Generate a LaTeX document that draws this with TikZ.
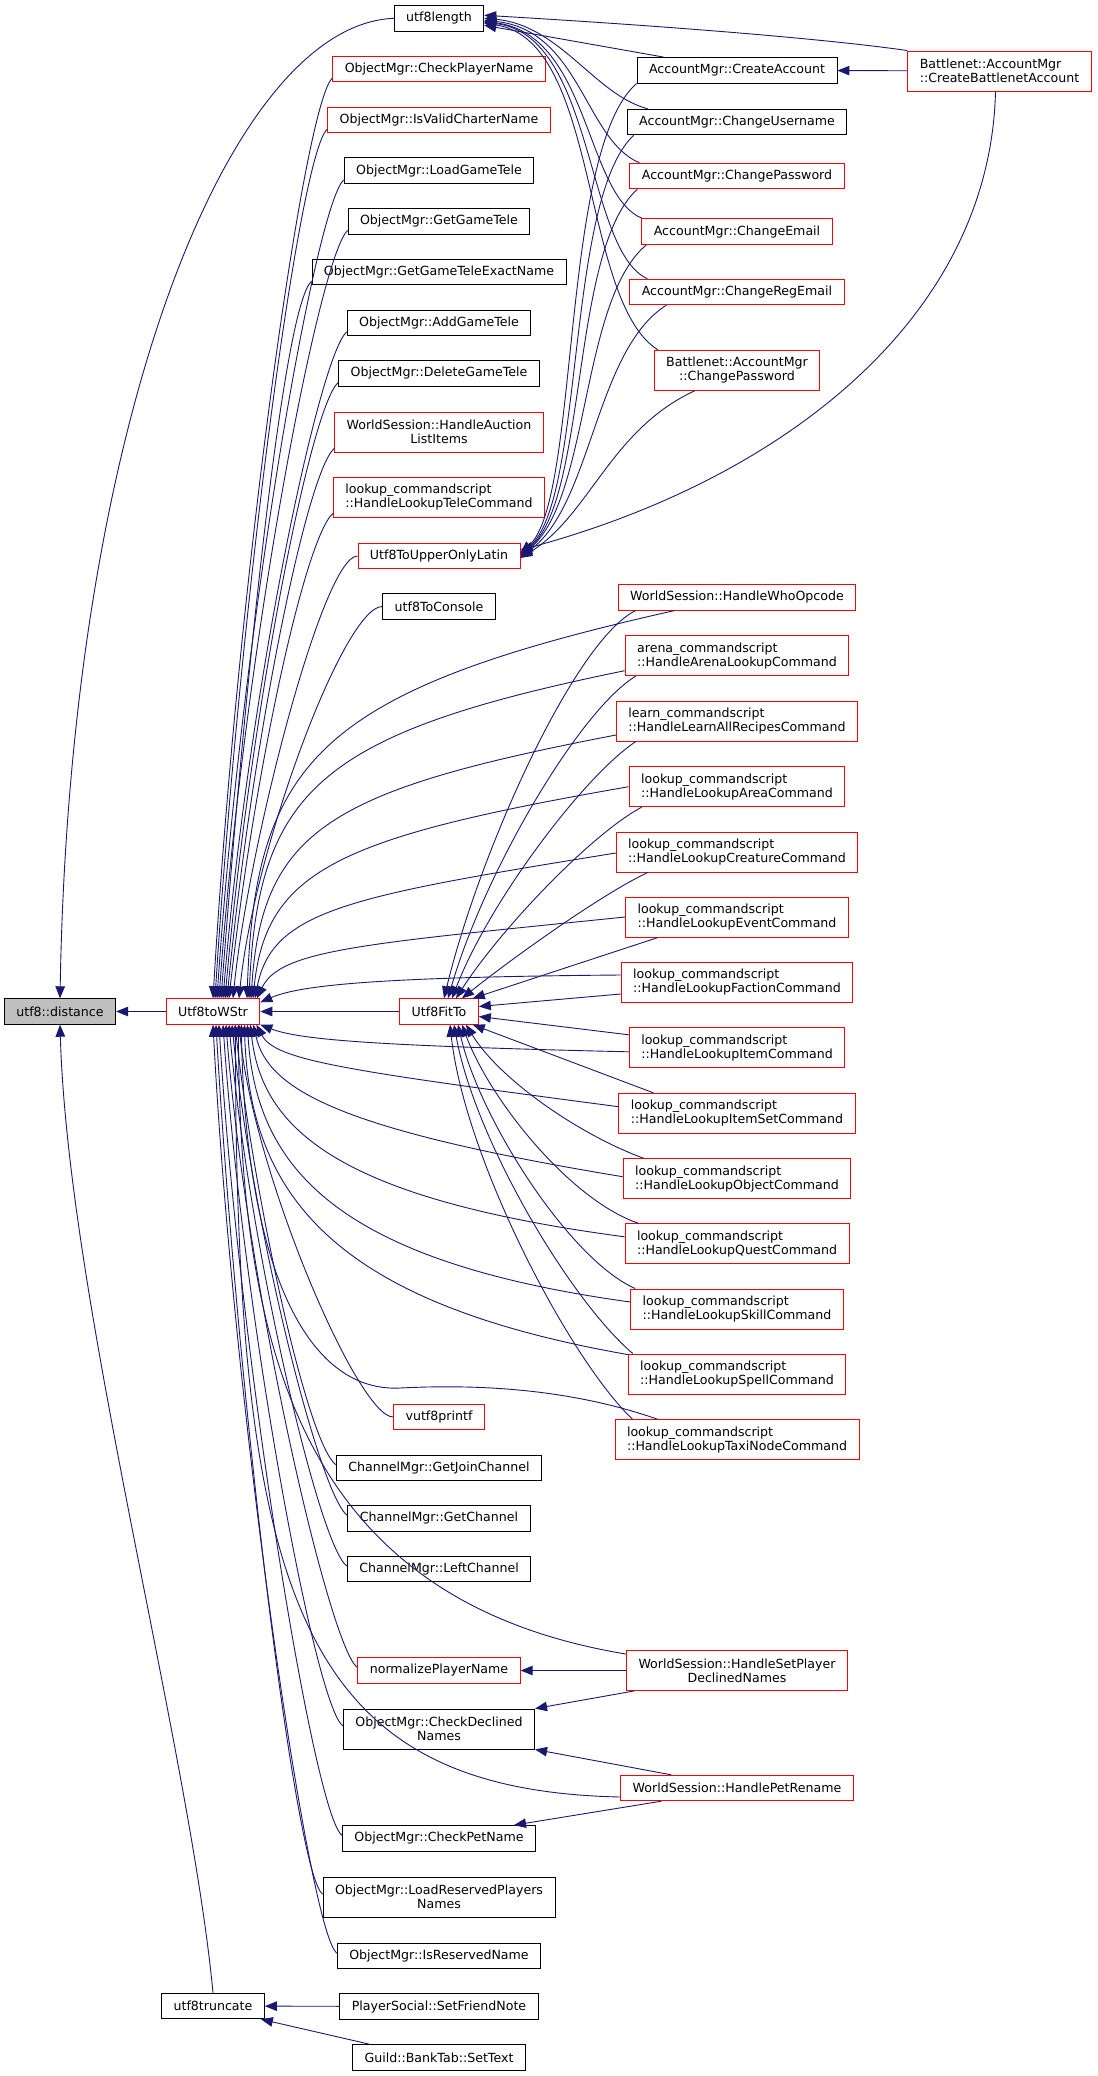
\documentclass[tikz,border=0pt]{standalone}
\usepackage{fontspec}
\setmainfont{DejaVu Sans}
\usepackage{xcolor}
\usepackage{tikz}
\usetikzlibrary{arrows.meta}
\definecolor{edgeblue}{HTML}{191970}

\begin{document}
\begin{tikzpicture}[
  x=1pt, y=-1pt,
  every node/.style={font=\fontsize{12.6}{14}\selectfont},
  func/.style={rectangle, draw=black, fill=white, line width=0.9pt, minimum height=25.5pt, inner xsep=12pt, inner ysep=2pt},
  cut/.style={func, draw=red},
  root/.style={func, fill=gray!50},
  two/.style={minimum height=40pt},
  cmd/.style={cut, two, align=left},
  arr/.style={{Triangle[length=12pt, width=9.5pt]}-, draw=edgeblue, line width=0.9pt}
]
\path[fill=white] (0,0) rectangle (1097,2076);

% Left column
\node[root] (dist) at (60,1011.5) {utf8::distance};
\node[cut] (wstr) at (213,1011.5) {Utf8toWStr};
\node[func] (trunc) at (213,2006) {utf8truncate};

% Middle column
\node[func] (len) at (439,18.3) {utf8length};
\node[cut] (cpn) at (439,69) {ObjectMgr::CheckPlayerName};
\node[cut] (ivc) at (439,120) {ObjectMgr::IsValidCharterName};
\node[func] (lgt) at (439,170.7) {ObjectMgr::LoadGameTele};
\node[func] (ggt) at (439,221.3) {ObjectMgr::GetGameTele};
\node[func] (gtx) at (439,272) {ObjectMgr::GetGameTeleExactName};
\node[func] (agt) at (439,322.7) {ObjectMgr::AddGameTele};
\node[func] (dgt) at (439,373.3) {ObjectMgr::DeleteGameTele};
\node[cut, two, align=center] (auc) at (439,432) {WorldSession::HandleAuction\\ListItems};
\node[cmd] (ltele) at (439,497) {lookup\_commandscript\\::HandleLookupTeleCommand};
\node[cut] (upper) at (439,556) {Utf8ToUpperOnlyLatin};
\node[func] (cons) at (439,606.5) {utf8ToConsole};
\node[cut] (fit) at (439,1011.5) {Utf8FitTo};
\node[cut] (vpf) at (439,1417) {vutf8printf};
\node[func] (gjc) at (439,1467.8) {ChannelMgr::GetJoinChannel};
\node[func] (gch) at (439,1518.5) {ChannelMgr::GetChannel};
\node[func] (lch) at (439,1569) {ChannelMgr::LeftChannel};
\node[cut] (npn) at (439,1670.5) {normalizePlayerName};
\node[func, two, align=center] (cdn) at (439,1729) {ObjectMgr::CheckDeclined\\Names};
\node[func] (cpet) at (439,1838.3) {ObjectMgr::CheckPetName};
\node[func, two, align=center] (lrp) at (439,1897) {ObjectMgr::LoadReservedPlayers\\Names};
\node[func] (irn) at (439,1956) {ObjectMgr::IsReservedName};
\node[func] (sfn) at (439,2006.5) {PlayerSocial::SetFriendNote};
\node[func] (bts) at (439,2057.3) {Guild::BankTab::SetText};

% Right column
\node[func] (ca) at (737,70.3) {AccountMgr::CreateAccount};
\node[func] (cu) at (737,122) {AccountMgr::ChangeUsername};
\node[cut] (cpw) at (737,176) {AccountMgr::ChangePassword};
\node[cut] (cem) at (737,231.7) {AccountMgr::ChangeEmail};
\node[cut] (crem) at (737,292) {AccountMgr::ChangeRegEmail};
\node[cut, two, align=center] (bcpw) at (737,370.3) {Battlenet::AccountMgr\\::ChangePassword};
\node[cmd] (bcba) at (999.5,71) {Battlenet::AccountMgr\\::CreateBattlenetAccount};
\node[cut] (who) at (737,597.3) {WorldSession::HandleWhoOpcode};
\node[cmd] (arena) at (737,655.7) {arena\_commandscript\\::HandleArenaLookupCommand};
\node[cmd] (learn) at (737,721) {learn\_commandscript\\::HandleLearnAllRecipesCommand};
\node[cmd] (area) at (737,786.7) {lookup\_commandscript\\::HandleLookupAreaCommand};
\node[cmd] (crea) at (737,852) {lookup\_commandscript\\::HandleLookupCreatureCommand};
\node[cmd] (evt) at (737,917) {lookup\_commandscript\\::HandleLookupEventCommand};
\node[cmd] (fac) at (737,982.5) {lookup\_commandscript\\::HandleLookupFactionCommand};
\node[cmd] (item) at (737,1047.8) {lookup\_commandscript\\::HandleLookupItemCommand};
\node[cmd] (iset) at (737,1113.3) {lookup\_commandscript\\::HandleLookupItemSetCommand};
\node[cmd] (obj) at (737,1178.7) {lookup\_commandscript\\::HandleLookupObjectCommand};
\node[cmd] (quest) at (737,1243.8) {lookup\_commandscript\\::HandleLookupQuestCommand};
\node[cmd] (skill) at (737,1309) {lookup\_commandscript\\::HandleLookupSkillCommand};
\node[cmd] (spell) at (737,1374) {lookup\_commandscript\\::HandleLookupSpellCommand};
\node[cmd] (taxi) at (737,1439.7) {lookup\_commandscript\\::HandleLookupTaxiNodeCommand};
\node[cut, two, align=center] (spdn) at (737,1670.5) {WorldSession::HandleSetPlayer\\DeclinedNames};
\node[cut] (pet) at (737,1788) {WorldSession::HandlePetRename};

% utf8::distance
\draw[arr] (dist) -- (wstr);
\draw[arr] (dist.north) .. controls (70,420) and (230,25) .. (len.west);
\draw[arr] (dist.south) .. controls (68,1300) and (190,1750) .. (trunc.north);

% utf8truncate
\draw[arr] (trunc) -- (sfn);
\draw[arr] ([xshift=-4pt]trunc.south east) -- ([xshift=17pt]bts.north west);

% utf8length
\draw[arr] ([yshift=3pt]len.east) .. controls (650,25) and (820,38) .. (bcba.north west);
\draw[arr] ([yshift=-7pt]len.east) -- ([xshift=27pt]ca.north west);
\draw[arr] (len.east) .. controls (560,25) and (595,95) .. ([xshift=21pt]cu.north west);
\draw[arr] ([yshift=-2pt]len.east) .. controls (580,30) and (585,140) .. ([xshift=10pt]cpw.north west);
\draw[arr] ([yshift=-3pt]len.east) .. controls (590,35) and (585,195) .. ([xshift=1pt]cem.north west);
\draw[arr] ([yshift=-4pt]len.east) .. controls (595,35) and (585,250) .. ([xshift=18pt]crem.north west);
\draw[arr] ([yshift=-5pt]len.east) .. controls (600,40) and (580,300) .. ([xshift=4pt]bcpw.north west);

% Utf8ToUpperOnlyLatin
\draw[arr] ([yshift=6pt]upper.east) .. controls (780,480) and (990,320) .. ([xshift=-4pt]bcba.south);
\draw[arr] ([yshift=3pt]upper.east) .. controls (580,500) and (560,150) .. (ca.south west);
\draw[arr] ([yshift=2pt]upper.east) .. controls (585,500) and (565,200) .. ([xshift=7pt]cu.south west);
\draw[arr] ([yshift=1pt]upper.east) .. controls (588,500) and (570,250) .. ([xshift=8pt]cpw.south west);
\draw[arr] (upper.east) .. controls (590,500) and (580,300) .. ([xshift=5pt]cem.south west);
\draw[arr] ([yshift=-1pt]upper.east) .. controls (592,505) and (595,350) .. ([xshift=37pt]crem.south west);
\draw[arr] ([yshift=-2pt]upper.east) .. controls (590,515) and (610,430) .. ([xshift=41pt]bcpw.south west);

% AccountMgr::CreateAccount
\draw[arr] (ca) -- (bcba);

% Utf8toWStr, callers above
\draw[arr] (wstr.north) .. controls +(25,-420) and +(-28,25) .. ([yshift=4pt]cpn.south west);
\draw[arr] ([xshift=2pt]wstr.north) .. controls +(25,-395) and +(-28,25) .. ([yshift=4pt]ivc.south west);
\draw[arr] ([xshift=4pt]wstr.north) .. controls +(25,-373) and +(-28,25) .. ([yshift=4pt]lgt.south west);
\draw[arr] ([xshift=6pt]wstr.north) .. controls +(25,-350) and +(-28,25) .. ([yshift=4pt]ggt.south west);
\draw[arr] ([xshift=8pt]wstr.north) .. controls +(25,-327) and +(-28,25) .. ([yshift=4pt]gtx.south west);
\draw[arr] ([xshift=10pt]wstr.north) .. controls +(25,-304) and +(-28,25) .. ([yshift=4pt]agt.south west);
\draw[arr] ([xshift=12pt]wstr.north) .. controls +(25,-282) and +(-28,25) .. ([yshift=4pt]dgt.south west);
\draw[arr] ([xshift=14pt]wstr.north) .. controls +(25,-255) and +(-28,25) .. ([yshift=4pt]auc.south west);
\draw[arr] ([xshift=16pt]wstr.north) .. controls +(25,-226) and +(-28,25) .. ([yshift=4pt]ltele.south west);
\draw[arr] ([xshift=20pt]wstr.north) .. controls +(15,-150) and +(-35,0) .. (upper.west);
\draw[arr] ([xshift=26pt]wstr.north) .. controls +(15,-150) and +(-38,0) .. (cons.west);

% Utf8toWStr, callers below
\draw[arr] ([xshift=26pt]wstr.south) .. controls +(15,150) and +(-35,0) .. (vpf.west);
\draw[arr] ([xshift=22pt]wstr.south) .. controls +(20,180) and +(-28,-20) .. ([yshift=3pt]gjc.west);
\draw[arr] ([xshift=19pt]wstr.south) .. controls +(20,200) and +(-28,-20) .. ([yshift=3pt]gch.west);
\draw[arr] ([xshift=16pt]wstr.south) .. controls +(20,220) and +(-28,-20) .. ([yshift=3pt]lch.west);
\draw[arr] ([xshift=13pt]wstr.south) .. controls +(20,260) and +(-28,-20) .. ([yshift=3pt]npn.west);
\draw[arr] ([xshift=10pt]wstr.south) .. controls +(20,290) and +(-28,-20) .. ([yshift=3pt]cdn.west);
\draw[arr] ([xshift=6pt]wstr.south) .. controls +(20,330) and +(-28,-20) .. ([yshift=3pt]cpet.west);
\draw[arr] ([xshift=3pt]wstr.south) .. controls +(20,350) and +(-28,-20) .. ([yshift=3pt]lrp.west);
\draw[arr] (wstr.south) .. controls +(20,380) and +(-28,-20) .. ([yshift=3pt]irn.west);

% Utf8toWStr, callers on the right
\draw[arr] ([xshift=34pt]wstr.north) .. controls (255,760) and (320,690) .. ([xshift=57pt]who.south west);
\draw[arr] ([xshift=36pt]wstr.north) .. controls (258,790) and (320,733) .. ([yshift=-15pt]arena.west);
\draw[arr] ([xshift=38pt]wstr.north) .. controls (262,830) and (330,790) .. ([yshift=-14pt]learn.west);
\draw[arr] ([xshift=40pt]wstr.north) .. controls (266,870) and (340,837) .. (area.west);
\draw[arr] ([xshift=42pt]wstr.north) .. controls (272,910) and (350,896) .. ([yshift=-1pt]crea.west);
\draw[arr] ([xshift=44pt]wstr.north) .. controls (280,950) and (360,944) .. (evt.west);
\draw[arr] ([yshift=-4pt]wstr.north east) .. controls (300,985) and (380,977) .. ([yshift=7.5pt]fac.west);
\draw[arr] (wstr.south east) .. controls (300,1040) and (380,1046) .. ([yshift=-4pt]item.west);
\draw[arr] ([xshift=-4pt]wstr.south east) .. controls (275,1060) and (340,1070) .. ([yshift=6.6pt]iset.west);
\draw[arr] ([xshift=-7pt]wstr.south east) .. controls (268,1090) and (340,1130) .. ([yshift=2pt]obj.west);
\draw[arr] ([xshift=-10pt]wstr.south east) .. controls (262,1130) and (340,1199) .. ([yshift=7pt]quest.west);
\draw[arr] ([xshift=-13pt]wstr.south east) .. controls (256,1170) and (340,1262) .. ([yshift=7pt]skill.west);
\draw[arr] ([xshift=-16pt]wstr.south east) .. controls (250,1200) and (340,1304) .. ([yshift=-1pt]spell.north west);
\draw[arr] ([xshift=-19pt]wstr.south east) .. controls (245,1250) and (300,1393) .. (400,1388)
  .. controls (460,1385) and (560,1385) .. ([xshift=43pt]taxi.north west);
\draw[arr] ([xshift=-22pt]wstr.south east) .. controls (240,1350) and (300,1600) .. ([yshift=-4pt]spdn.north west);
\draw[arr] ([xshift=-25pt]wstr.south east) .. controls (236,1600) and (300,1790) .. ([yshift=-9pt]pet.west);
\draw[arr] (wstr) -- (fit);

% Utf8FitTo
\draw[arr] ([xshift=5pt]fit.north) .. controls (480,850) and (575,640) .. ([xshift=18pt]who.south west);
\draw[arr] ([xshift=9pt]fit.north) .. controls (485,870) and (580,710) .. ([xshift=11pt]arena.south west);
\draw[arr] ([xshift=13pt]fit.north) .. controls (490,900) and (585,775) .. ([xshift=20pt]learn.south west);
\draw[arr] ([xshift=17pt]fit.north) .. controls (500,930) and (590,835) .. ([xshift=13pt]area.south west);
\draw[arr] ([xshift=23pt]fit.north) .. controls (510,960) and (600,895) .. ([xshift=32pt]crea.south west);
\draw[arr] ([xshift=-6pt]fit.north east) -- ([xshift=33pt]evt.south west);
\draw[arr] ([yshift=5pt]fit.east) -- ([yshift=-11.5pt]fac.west);
\draw[arr] ([yshift=-5pt]fit.east) -- ([yshift=13pt]item.west);
\draw[arr] ([xshift=-6pt]fit.south east) -- ([xshift=35pt]iset.north west);
\draw[arr] ([xshift=27pt]fit.south) .. controls (500,1080) and (580,1135) .. ([xshift=21pt]obj.north west);
\draw[arr] ([xshift=23pt]fit.south) .. controls (490,1100) and (570,1200) .. ([xshift=14pt]quest.north west);
\draw[arr] ([xshift=19pt]fit.south) .. controls (480,1120) and (570,1260) .. ([xshift=5pt]skill.north west);
\draw[arr] ([xshift=15pt]fit.south) .. controls (475,1140) and (570,1300) .. ([xshift=5pt]spell.north west);
\draw[arr] ([xshift=11pt]fit.south) .. controls (465,1160) and (570,1360) .. ([xshift=18pt]taxi.north west);

% Declined names, pet names
\draw[arr] (npn) -- (spdn);
\draw[arr] (cdn.north east) -- ([xshift=8pt]spdn.south west);
\draw[arr] (cdn.south east) -- ([xshift=51pt]pet.north west);
\draw[arr] ([xshift=-22pt]cpet.north east) -- ([xshift=41pt]pet.south west);

\end{tikzpicture}
\end{document}
